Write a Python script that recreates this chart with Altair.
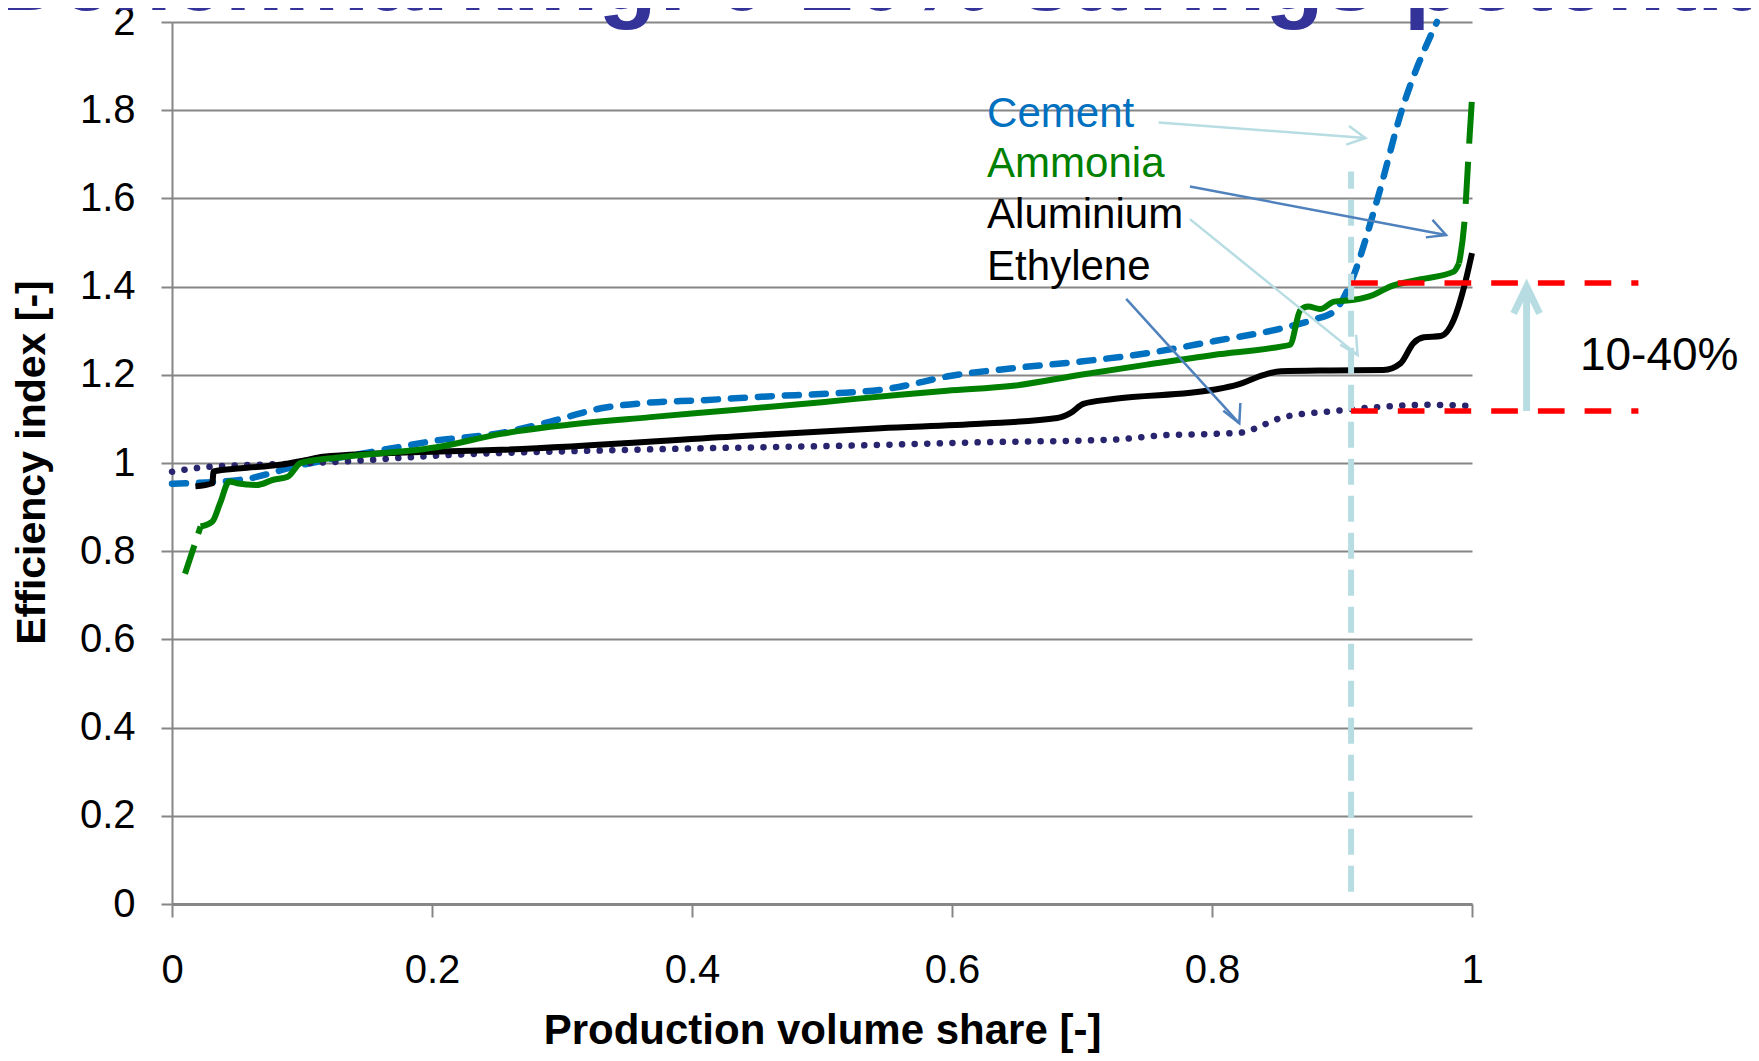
import math
import altair as alt
import pandas as pd

# ---------------- data ----------------
cement_x = [0.000, 0.053, 0.099, 0.119, 0.155, 0.176, 0.201, 0.253, 0.291, 0.330, 0.368, 0.406, 0.458,
            0.509, 0.545, 0.560, 0.596, 0.647, 0.699, 0.750, 0.801, 0.853, 0.878, 0.894, 0.906, 0.927,
            0.946, 0.973]
cement_y = [0.953, 0.962, 0.995, 1.007, 1.026, 1.037, 1.050, 1.068, 1.094, 1.124, 1.137, 1.142, 1.151,
            1.158, 1.166, 1.173, 1.196, 1.215, 1.230, 1.249, 1.276, 1.305, 1.325, 1.344, 1.404, 1.596,
            1.800, 2.000]

ammonia_x = [0.022, 0.031, 0.037, 0.044, 0.050, 0.065, 0.078, 0.089, 0.099, 0.130, 0.206, 0.253, 0.291,
             0.368, 0.432, 0.500, 0.560, 0.596, 0.647, 0.699, 0.750, 0.801, 0.853, 0.860, 0.868, 0.874,
             0.883, 0.894, 0.909, 0.924, 0.937, 0.958, 0.986, 0.990]
ammonia_y = [0.856, 0.867, 0.909, 0.958, 0.954, 0.950, 0.962, 0.969, 1.000, 1.013, 1.037, 1.066, 1.082,
             1.104, 1.120, 1.138, 1.155, 1.164, 1.175, 1.200, 1.223, 1.245, 1.264, 1.268, 1.347, 1.355,
             1.349, 1.366, 1.370, 1.381, 1.400, 1.415, 1.434, 1.453]
ammonia_low_x = [0.010, 0.022]
ammonia_low_y = [0.749, 0.856]
ammonia_high_x = [0.990, 0.994, 0.998, 1.000]
ammonia_high_y = [1.453, 1.540, 1.733, 1.827]

aluminium_x = [0.018, 0.031, 0.032, 0.053, 0.083, 0.104, 0.116, 0.206, 0.253, 0.432, 0.545, 0.622, 0.681,
               0.691, 0.701, 0.724, 0.801, 0.819, 0.840, 0.853, 0.891, 0.932, 0.945, 0.955, 0.963, 0.976,
               0.986, 0.994, 1.000]
aluminium_y = [0.947, 0.954, 0.981, 0.988, 0.996, 1.007, 1.014, 1.026, 1.030, 1.060, 1.079, 1.089, 1.102,
               1.113, 1.134, 1.145, 1.166, 1.177, 1.200, 1.208, 1.210, 1.211, 1.226, 1.272, 1.285, 1.288,
               1.325, 1.400, 1.476]

ethylene_x = [0.000, 0.027, 0.078, 0.130, 0.206, 0.355, 0.545, 0.622, 0.724, 0.763, 0.801, 0.823, 0.840,
              0.855, 0.891, 0.924, 0.968, 0.995]
ethylene_y = [0.980, 0.991, 0.997, 1.003, 1.017, 1.030, 1.041, 1.047, 1.053, 1.063, 1.066, 1.069, 1.087,
              1.104, 1.117, 1.126, 1.132, 1.130]

x_ticks = [0, 0.2, 0.4, 0.6, 0.8, 1]
y_ticks = [0, 0.2, 0.4, 0.6, 0.8, 1, 1.2, 1.4, 1.6, 1.8, 2]

label_text = ["Cement", "Ammonia", "Aluminium", "Ethylene"]
label_color = ["#0070C0", "#008000", "#000000", "#000000"]
label_x = [0.627, 0.627, 0.627, 0.627]
label_y = [1.763, 1.648, 1.532, 1.415]

arrow_x1 = [0.759, 0.783, 0.783, 0.734]
arrow_y1 = [1.772, 1.627, 1.553, 1.372]
arrow_x2 = [0.918, 0.980, 0.912, 0.821]
arrow_y2 = [1.737, 1.517, 1.245, 1.090]
arrow_color = ["#B7DDE3", "#4F81BD", "#B7DDE3", "#4F81BD"]

cut_x = 0.907            # vertical dashed marker
cut_y = [0.028, 1.661]
band_y = [1.408, 1.118]  # red dashed lines
band_x = [0.907, 1.128]
gap_arrow_x = 1.042
gap_arrow_y = [1.118, 1.40]
gap_label = "10-40%"
gap_label_pos = [1.083, 1.21]

title_text = "Benchmarking: 0-20% savings potential"
title_pos = [-0.14, 2.028]

# ---------------- layout ----------------
PLOT_W, PLOT_H = 1300, 882
FONT = "Liberation Sans"
GRID = "#868686"

xs = alt.Scale(domain=[0, 1], nice=False, zero=False)
ys = alt.Scale(domain=[0, 2], nice=False, zero=False)

AX_X = alt.Axis(
    values=x_ticks, format="~g", grid=False, title="Production volume share [-]",
    labelFont=FONT, labelFontSize=40, labelColor="#000000", labelPadding=33, labelFlush=False,
    labelOverlap=False,
    tickColor=GRID, tickSize=13, tickWidth=2, domainColor=GRID, domainWidth=3,
    titleFont=FONT, titleFontSize=42, titleFontWeight="bold", titleColor="#000000",
    titleX=650, titleY=139, titleBaseline="alphabetic", titleAlign="center")
AX_Y = alt.Axis(
    values=y_ticks, format="~g", grid=True, gridColor=GRID, gridWidth=2,
    title="Efficiency index [-]", labelOverlap=False, labelFlush=False,
    labelFont=FONT, labelFontSize=40, labelColor="#000000", labelPadding=26,
    tickColor=GRID, tickSize=11, tickWidth=2, domainColor=GRID, domainWidth=2,
    titleFont=FONT, titleFontSize=41, titleFontWeight="bold", titleColor="#000000",
    titleX=-128, titleY=440, titleAngle=270, titleBaseline="alphabetic", titleAlign="center")


def X(f):
    return alt.X(f, scale=xs, axis=AX_X)


def Y(f):
    return alt.Y(f, scale=ys, axis=AX_Y)


def line_df(xv, yv):
    return pd.DataFrame({"x": xv, "y": yv, "i": list(range(len(xv)))})


def series(xv, yv, **mark):
    return alt.Chart(line_df(xv, yv)).mark_line(interpolate="monotone", **mark).encode(
        x=X("x:Q"), y=Y("y:Q"), order="i:Q")


cement = series(cement_x, cement_y, color="#0070C0", strokeWidth=6.5, strokeDash=[14, 13], strokeCap="round")
ammonia = series(ammonia_x, ammonia_y, color="#008000", strokeWidth=6)
ammonia_low = series(ammonia_low_x, ammonia_low_y, color="#008000", strokeWidth=6, strokeDash=[30, 12])
ammonia_high = series(ammonia_high_x, ammonia_high_y, color="#008000", strokeWidth=6, strokeDash=[42, 18])
aluminium = series(aluminium_x, aluminium_y, color="#000000", strokeWidth=6)
ethylene = series(ethylene_x, ethylene_y, color="#28246E", strokeWidth=6.5, strokeDash=[0.1, 12.5],
                  strokeCap="round")

# vertical light-blue dashed marker
cut_df = pd.DataFrame({"x": [cut_x], "y": [cut_y[0]], "y2": [cut_y[1]]})
cut = alt.Chart(cut_df).mark_rule(color="#B7DDE3", strokeWidth=6, strokeDash=[26, 11]).encode(
    x=X("x:Q"), y=Y("y:Q"), y2="y2:Q")

# red dashed band lines
band_df = pd.DataFrame({"x": [band_x[0]] * 2, "x2": [band_x[1]] * 2, "y": band_y})
band = alt.Chart(band_df).mark_rule(color="#FF0000", strokeWidth=5.5, strokeDash=[26.7, 20]).encode(
    x=X("x:Q"), x2="x2:Q", y=Y("y:Q"))


def ang(x1, y1, x2, y2):
    return math.degrees(math.atan2(-(y2 - y1) * PLOT_H, (x2 - x1) * PLOT_W)) % 360


arr_df = pd.DataFrame({"x": arrow_x1, "y": arrow_y1, "x2": arrow_x2, "y2": arrow_y2, "c": arrow_color,
                       "a": [ang(a, b, c, d) for a, b, c, d in zip(arrow_x1, arrow_y1, arrow_x2, arrow_y2)]})
arr_lines = alt.Chart(arr_df).mark_rule(strokeWidth=2.5).encode(
    x=X("x:Q"), y=Y("y:Q"), x2="x2:Q", y2="y2:Q", color=alt.Color("c:N", scale=None))
arr_heads = alt.Chart(arr_df).mark_point(
    shape="M-1,-0.52L0,0L-1,0.52", filled=False, size=1296, strokeWidth=2.5, opacity=1).encode(
    x=X("x2:Q"), y=Y("y2:Q"),
    color=alt.Color("c:N", scale=None), angle=alt.Angle("a:Q", scale=None))

# thick vertical gap arrow
gap_df = pd.DataFrame({"x": [gap_arrow_x], "y": [gap_arrow_y[0]], "y2": [gap_arrow_y[1]]})
gap_line = alt.Chart(gap_df).mark_rule(color="#B7DDE3", strokeWidth=7).encode(
    x=X("x:Q"), y=Y("y:Q"), y2="y2:Q")
gap_head = alt.Chart(gap_df).mark_point(
    shape="M-1,-0.48L0,0L-1,0.48", filled=False, size=2916, strokeWidth=7, color="#B7DDE3",
    opacity=1, angle=270).encode(x=X("x:Q"), y=Y("y2:Q"))

# texts
lab_df = pd.DataFrame({"t": label_text, "x": label_x, "y": label_y, "c": label_color})
labels = alt.Chart(lab_df).mark_text(font=FONT, fontSize=42, align="left", baseline="alphabetic").encode(
    x=X("x:Q"), y=Y("y:Q"), text="t:N", color=alt.Color("c:N", scale=None))

gap_text = alt.Chart(pd.DataFrame({"t": [gap_label], "x": [gap_label_pos[0]], "y": [gap_label_pos[1]]})).mark_text(
    font=FONT, fontSize=46, align="left", baseline="alphabetic", color="#000000").encode(
    x=X("x:Q"), y=Y("y:Q"), text="t:N")

title = alt.Chart(pd.DataFrame({"t": [title_text], "x": [title_pos[0]], "y": [title_pos[1]]})).mark_text(
    font=FONT, fontSize=96, fontWeight="bold", align="left", baseline="alphabetic", color="#333399").encode(
    x=X("x:Q"), y=Y("y:Q"), text="t:N")

chart = alt.layer(
    cement, ethylene, aluminium, ammonia, ammonia_low, ammonia_high,
    cut, band, arr_lines, arr_heads, gap_line, gap_head, labels, gap_text, title,
).properties(
    width=PLOT_W, height=PLOT_H,
    autosize=alt.AutoSizeParams(type="none"),
    padding={"left": 164, "top": 14, "right": 279, "bottom": 149},
    background="#FFFFFF",
).configure_view(stroke="transparent")

chart.save("out.html", embed_options={"renderer": "svg", "actions": False})
